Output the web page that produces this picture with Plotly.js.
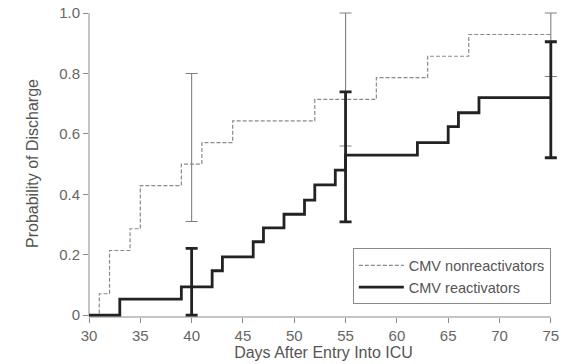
<!DOCTYPE html>
<html>
<head>
<meta charset="utf-8">
<script src="https://cdn.plot.ly/plotly-3.0.1.min.js"></script>
<style>html,body{margin:0;padding:0;background:#fff;}#chart{width:573px;height:364px;}</style>
</head>
<body>
<div id="chart"></div>
<script>
// Kaplan-Meier style step data
const nonDays = [30, 31, 32, 34, 35, 39, 41, 44, 52, 58, 63, 67, 75];
const nonProb = [0, 0.071, 0.214, 0.286, 0.429, 0.5, 0.571, 0.643, 0.714, 0.786, 0.857, 0.929, 0.929];

const reaDays = [30, 33, 39, 42, 43, 46, 47, 49, 51, 52, 54, 55, 62, 65, 66, 68, 75];
const reaProb = [0, 0.053, 0.094, 0.147, 0.193, 0.243, 0.289, 0.334, 0.381, 0.431, 0.48, 0.53, 0.571, 0.624, 0.67, 0.72, 0.72];

// Confidence intervals
const ciDays = [40, 55, 75];
const nonCenter = [0.5, 0.714, 0.929];
const nonUpper = [0.8, 1.0, 1.0];
const nonLower = [0.31, 0.56, 0.79];
const reaCenter = [0.094, 0.53, 0.72];
const reaUpper = [0.221, 0.739, 0.905];
const reaLower = [0.0, 0.309, 0.521];

const xTicks = [30, 35, 40, 45, 50, 55, 60, 65, 70, 75];
const yTicks = [0, 0.2, 0.4, 0.6, 0.8, 1.0];
const yTickText = ['0', '0.2', '0.4', '0.6', '0.8', '1.0'];

const FONT = 'Liberation Sans, Arial, sans-serif';
const AXIS = '#8a8a8a';

const traces = [
  {
    x: nonDays, y: nonProb, type: 'scatter', mode: 'lines',
    line: {shape: 'hv', color: '#8a8a8a', width: 1.2, dash: '4px,2px'},
    name: 'CMV nonreactivators', cliponaxis: false
  },
  {
    x: ciDays, y: nonCenter, type: 'scatter', mode: 'markers',
    marker: {size: 1, opacity: 0}, showlegend: false, hoverinfo: 'skip', cliponaxis: false,
    error_y: {type: 'data', symmetric: false,
      array: nonUpper.map((u, i) => u - nonCenter[i]),
      arrayminus: nonLower.map((l, i) => nonCenter[i] - l),
      color: '#808080', thickness: 1.1, width: 6}
  },
  {
    x: reaDays, y: reaProb, type: 'scatter', mode: 'lines',
    line: {shape: 'hv', color: '#222222', width: 2.8},
    name: 'CMV reactivators', cliponaxis: false
  },
  {
    x: ciDays, y: reaCenter, type: 'scatter', mode: 'markers',
    marker: {size: 1, opacity: 0}, showlegend: false, hoverinfo: 'skip', cliponaxis: false,
    error_y: {type: 'data', symmetric: false,
      array: reaUpper.map((u, i) => u - reaCenter[i]),
      arrayminus: reaCenter.map((c, i) => c - reaLower[i]),
      color: '#222222', thickness: 2.8, width: 6}
  }
];

const layout = {
  width: 573, height: 364,
  margin: {l: 89, r: 14.8, t: 10, b: 47.2, pad: 0},
  paper_bgcolor: '#fff', plot_bgcolor: '#fff',
  font: {family: FONT, color: '#666', size: 13},
  showlegend: true,
  legend: {
    x: 0.9847, y: 0.041, xanchor: 'right', yanchor: 'bottom',
    bordercolor: AXIS, borderwidth: 1, bgcolor: '#fff',
    font: {family: FONT, size: 14.5, color: '#555'},
    itemwidth: 45,
    tracegroupgap: 0
  },
  xaxis: {
    range: [30, 75.7], tickvals: xTicks, ticks: 'outside', ticklen: 5, tickcolor: AXIS,
    showline: false, showgrid: false, zeroline: false,
    tickfont: {family: FONT, size: 15, color: '#666'},
    title: {text: 'Days After Entry Into ICU', font: {family: FONT, size: 16, color: '#555'}, standoff: 3}
  },
  yaxis: {
    range: [-0.006, 1.01], tickvals: yTicks, ticktext: yTickText, ticks: 'outside', ticklen: 5, tickcolor: AXIS,
    showline: false, showgrid: false, zeroline: false,
    tickfont: {family: FONT, size: 15, color: '#666'},
    title: {text: 'Probability of Discharge', font: {family: FONT, size: 16, color: '#555'}, standoff: 16}
  },
  shapes: [
    {type: 'line', xref: 'x', yref: 'paper', x0: 30, x1: 75, y0: 0, y1: 0, line: {color: AXIS, width: 1}, layer: 'below'},
    {type: 'line', xref: 'paper', yref: 'y', x0: 0, x1: 0, y0: -0.006, y1: 1.0, line: {color: AXIS, width: 1}, layer: 'below'}
  ]
};

Plotly.newPlot('chart', traces, layout, {staticPlot: true, displayModeBar: false});
</script>
</body>
</html>
